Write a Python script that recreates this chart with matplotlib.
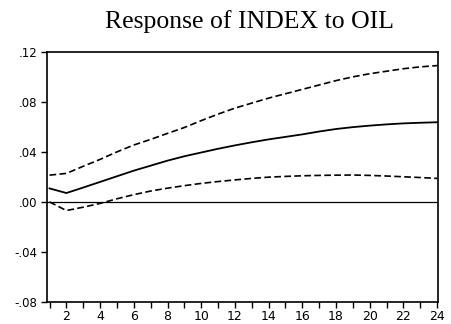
import matplotlib
matplotlib.use("Agg")
import matplotlib.pyplot as plt
from matplotlib.ticker import MultipleLocator, FixedLocator

periods = list(range(1, 25))
response = [0.0108, 0.0071, 0.0115, 0.0160, 0.0205, 0.0250, 0.0290, 0.0330,
            0.0365, 0.0395, 0.0425, 0.0452, 0.0477, 0.0500, 0.0520, 0.0540,
            0.0563, 0.0583, 0.0598, 0.0610, 0.0620, 0.0628, 0.0633, 0.0637]
upper = [0.0214, 0.0228, 0.0285, 0.0340, 0.0400, 0.0455, 0.0500, 0.0548,
         0.0595, 0.0650, 0.0702, 0.0750, 0.0790, 0.0830, 0.0865, 0.0900,
         0.0935, 0.0970, 0.1000, 0.1025, 0.1045, 0.1065, 0.1080, 0.1090]
lower = [0.0000, -0.0069, -0.0042, -0.0012, 0.0025, 0.0058, 0.0087, 0.0110,
         0.0130, 0.0148, 0.0163, 0.0176, 0.0188, 0.0198, 0.0204, 0.0209,
         0.0212, 0.0214, 0.0215, 0.0212, 0.0207, 0.0201, 0.0195, 0.0188]
ytick_vals = [-0.08, -0.04, 0.0, 0.04, 0.08, 0.12]
ytick_labels = ["-.08", "-.04", ".00", ".04", ".08", ".12"]
xtick_vals = [2, 4, 6, 8, 10, 12, 14, 16, 18, 20, 22, 24]
title = "Response of INDEX to OIL"

fig = plt.figure(figsize=(4.52, 3.24), dpi=100)
ax = fig.add_axes([0.104, 0.068, 0.865, 0.772])

ax.axhline(0, color="black", lw=0.9)
ax.plot(periods, response, color="black", lw=1.3)
ax.plot(periods, upper, color="black", lw=1.2, linestyle=(0, (4, 2)))
ax.plot(periods, lower, color="black", lw=1.2, linestyle=(0, (4, 2)))

ax.set_xlim(0.85, 24.05)
ax.set_ylim(-0.08, 0.12)
ax.yaxis.set_major_locator(FixedLocator(ytick_vals))
ax.set_yticklabels(ytick_labels, fontsize=8.5, family="DejaVu Sans")
ax.xaxis.set_major_locator(FixedLocator(xtick_vals))
ax.xaxis.set_minor_locator(MultipleLocator(1))
ax.set_xticklabels([str(v) for v in xtick_vals], fontsize=9, family="DejaVu Sans")
ax.tick_params(axis="x", which="both", direction="out", length=4, width=1, pad=2)
ax.tick_params(axis="y", which="both", direction="out", length=4, width=1, pad=3)
for s in ax.spines.values():
    s.set_linewidth(1.2)

fig.text(0.553, 0.914, title, ha="center", va="baseline",
         fontsize=18.5, family="Liberation Serif")

fig.savefig("out.png", dpi=100)
